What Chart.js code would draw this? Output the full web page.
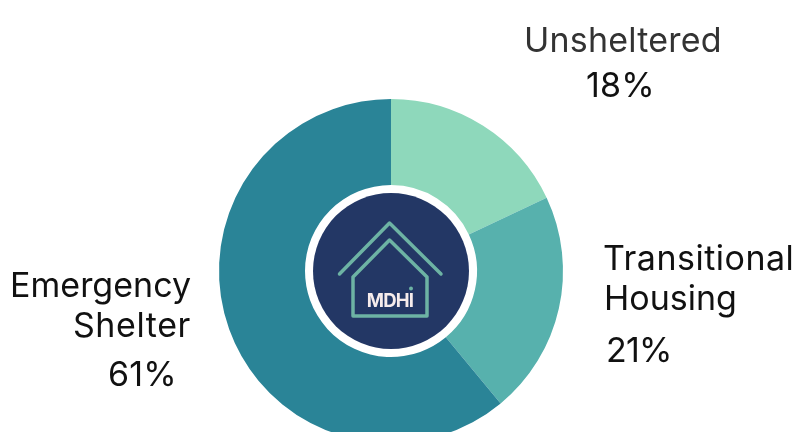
<!DOCTYPE html>
<html>
<head>
<meta charset="utf-8">
<title>MDHI</title>
<script src="https://cdn.jsdelivr.net/npm/chart.js@4"></script>
<style>
  html, body { margin: 0; padding: 0; width: 799px; height: 432px; overflow: hidden; background: #fff; }
  canvas { display: block; }
</style>
</head>
<body>
<canvas id="donut" width="799" height="542"></canvas>
<script>
/* data, clockwise from the top */
const categories = ['Unsheltered', 'Transitional Housing', 'Emergency Shelter'];
const percents   = [18, 21, 61];
const colors     = ['#8ed8bb', '#57b1ad', '#2a8497'];

/* text lines around the ring: [text, x, baseline, align, color, letter spacing] */
const labelFont = '400 34px Inter, "Noto Sans", sans-serif';
const textLines = [
  [categories[0], 524, 52, 'left', '#333333', 0.2],
  [percents[0] + '%', 586, 97, 'left', '#111111', 0.2],
  ['Transitional', 603, 270, 'left', '#111111', 0.5],
  ['Housing', 604, 310, 'left', '#111111', 0],
  [percents[1] + '%', 606, 362, 'left', '#111111', -0.8],
  ['Emergency', 191, 297, 'right', '#111111', 0],
  ['Shelter', 191, 337, 'right', '#111111', 0.6],
  [percents[2] + '%', 108, 386, 'left', '#111111', 0.2],
];

/* ── Labels and the logo in the hole ── */
const overlay = {
  id: 'overlay',
  afterDraw(chart) {
    const ctx = chart.ctx;
    const arc = chart.getDatasetMeta(0).data[0];
    const cx = arc.x, cy = arc.y - 1;

    ctx.save();
    ctx.textBaseline = 'alphabetic';
    ctx.font = labelFont;
    textLines.forEach(([txt, x, y, align, color, spacing]) => {
      ctx.textAlign = align;
      ctx.fillStyle = color;
      ctx.letterSpacing = spacing + 'px';
      ctx.fillText(txt, x, y);
    });

    // navy disc
    ctx.fillStyle = '#233765';
    ctx.beginPath();
    ctx.arc(arc.x, arc.y, 78, 0, Math.PI * 2);
    ctx.fill();

    // roof and house outline
    ctx.strokeStyle = '#6db3a4';
    ctx.lineWidth = 3.5;
    ctx.lineCap = 'round';
    ctx.lineJoin = 'round';
    ctx.beginPath();
    ctx.moveTo(cx - 51.5, cy + 4);
    ctx.lineTo(cx - 1.5, cy - 47);
    ctx.lineTo(cx + 50, cy + 4);
    ctx.stroke();
    ctx.beginPath();
    ctx.moveTo(cx - 1.5, cy - 30);
    ctx.lineTo(cx + 36, cy + 7);
    ctx.lineTo(cx + 36, cy + 46);
    ctx.lineTo(cx - 38, cy + 46);
    ctx.lineTo(cx - 38, cy + 7);
    ctx.closePath();
    ctx.stroke();

    // dot over the I
    ctx.fillStyle = '#6db3a4';
    ctx.beginPath();
    ctx.arc(cx + 20, cy + 18.5, 2, 0, Math.PI * 2);
    ctx.fill();

    ctx.fillStyle = '#f6ecec';
    ctx.font = '700 18.5px Inter, "Noto Sans", sans-serif';
    ctx.textAlign = 'center';
    ctx.letterSpacing = '-0.8px';
    ctx.fillText('MDHI', cx - 1, cy + 37);
    ctx.restore();
  },
};

new Chart(document.getElementById('donut'), {
  type: 'doughnut',
  data: {
    labels: categories,
    datasets: [{ data: percents, backgroundColor: colors, borderWidth: 0 }],
  },
  options: {
    responsive: false,
    animation: false,
    cutout: '50%',
    layout: { padding: { top: 99, bottom: 99, left: 219, right: 236 } },
    plugins: { legend: { display: false }, tooltip: { enabled: false }, title: { display: false } },
  },
  plugins: [overlay],
});
</script>
</body>
</html>
